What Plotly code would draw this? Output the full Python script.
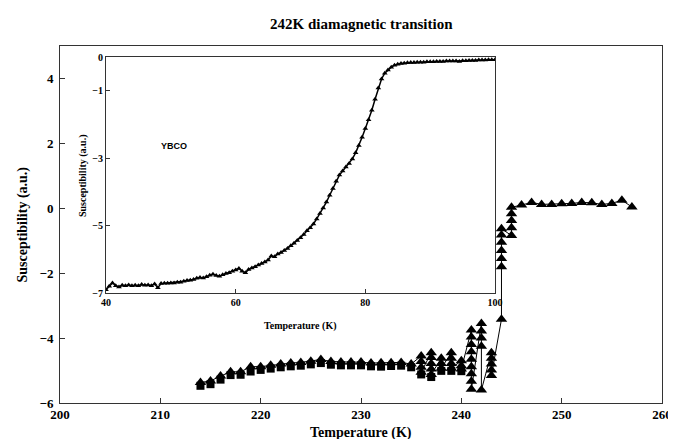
"""
242K diamagnetic transition with YBCO inset.
"""

import numpy as np
import plotly.graph_objects as go

# ── main panel data (triangles, stacks = repeated readings) ─────────────────
main_T = [
    214, 215, 216, 217, 218, 219, 220, 221, 222, 223, 224, 225, 226, 227,
    228, 229, 230, 231, 232, 233, 234, 235,
    236, 236, 236, 236,
    237, 237, 237, 237, 237,
    238, 238, 238,
    239, 239, 239, 239,
    240, 240, 240,
    241, 241, 241, 241, 241, 241, 241, 241, 241,
    242, 242, 242, 242, 242,
    243, 243, 243, 243, 243,
    244, 244, 244, 244, 244, 244, 244,
    245, 245, 245, 245, 245,
    246, 247, 248, 249, 250, 251, 252, 253, 254, 255, 256, 257,
]
main_chi = [
    -5.37, -5.32, -5.17, -5.04, -5.04, -4.88, -4.88, -4.84, -4.80, -4.77,
    -4.75, -4.71, -4.66, -4.72, -4.74, -4.74, -4.74, -4.77, -4.76, -4.76,
    -4.75, -4.80,
    -4.55, -4.72, -4.90, -5.05,
    -4.45, -4.60, -4.78, -4.95, -5.12,
    -4.62, -4.78, -4.93,
    -4.45, -4.62, -4.78, -4.93,
    -4.70, -4.85, -4.95,
    -3.75, -3.97, -4.20, -4.42, -4.65, -4.88, -5.10, -5.33, -5.58,
    -3.55, -3.78, -4.00, -4.25, -5.60,
    -4.45, -4.62, -4.80, -4.98, -5.15,
    -3.42, -1.80, -1.55, -1.30, -1.05, -0.82, -0.63,
    -0.84, -0.60, -0.38, -0.17, 0.03,
    0.10, 0.18, 0.12, 0.12, 0.14, 0.15, 0.18, 0.17, 0.12, 0.15, 0.25, 0.04,
]

# square markers sitting just under the triangles
sq_T = [
    214, 215, 216, 217, 218, 219, 220, 221, 222, 223, 224, 225, 226, 227,
    228, 229, 230, 231, 232, 233, 234, 235, 236, 237, 238, 239, 240,
]
sq_chi = [
    -5.47, -5.42, -5.28, -5.14, -5.13, -5.03, -4.98, -4.94, -4.90, -4.87,
    -4.85, -4.81, -4.77, -4.82, -4.84, -4.84, -4.84, -4.87, -4.88, -4.86,
    -4.85, -4.90, -5.12, -5.20, -5.01, -5.01, -5.02,
]

# ── inset (YBCO) data ────────────────────────────────────────────────────────
ybco_T = np.arange(40.0, 100.5, 0.5)
ybco_chi = [
    -6.90, -6.80, -6.70, -6.78, -6.82, -6.77, -6.78, -6.76, -6.78, -6.77,
    -6.78, -6.75, -6.77, -6.76, -6.78, -6.73, -6.84, -6.72, -6.71, -6.71,
    -6.70, -6.70, -6.68, -6.68, -6.65, -6.63, -6.62, -6.60, -6.56, -6.54,
    -6.55, -6.52, -6.47, -6.44, -6.48, -6.50, -6.46, -6.42, -6.40, -6.35,
    -6.32, -6.27, -6.35, -6.40, -6.30, -6.26, -6.22, -6.17, -6.12, -6.08,
    -6.02, -5.90, -5.92, -5.84, -5.80, -5.74, -5.68, -5.60, -5.52, -5.44,
    -5.36, -5.26, -5.15, -5.06, -4.95, -4.80, -4.64, -4.48, -4.30, -4.10,
    -3.90, -3.68, -3.50, -3.38, -3.26, -3.16, -3.02, -2.84, -2.62, -2.38,
    -2.12, -1.86, -1.58, -1.25, -0.92, -0.65, -0.48, -0.38, -0.30, -0.24,
    -0.21, -0.19, -0.18, -0.17, -0.16, -0.16, -0.15, -0.15, -0.15, -0.14,
    -0.14, -0.14, -0.13, -0.13, -0.13, -0.12, -0.12, -0.12, -0.12, -0.13,
    -0.11, -0.11, -0.10, -0.10, -0.10, -0.09, -0.09, -0.09, -0.08, -0.08,
    -0.08,
]

main_xticks = [200, 210, 220, 230, 240, 250, 260]
main_yticks = [-6, -4, -2, 0, 2, 4]
inset_xticks = [40, 60, 80, 100]
inset_yticks = [-7, -5, -3, -1, 0]

SERIF = "Liberation Serif"
AX = "#333333"

fig = go.Figure()

fig.add_trace(go.Scatter(
    x=sq_T, y=sq_chi, mode="markers",
    marker=dict(symbol="square", size=8, color="black"),
    showlegend=False,
))
fig.add_trace(go.Scatter(
    x=main_T, y=main_chi, mode="lines+markers",
    line=dict(color="black", width=1),
    marker=dict(symbol="triangle-up", size=10, color="black"),
    showlegend=False,
))
fig.add_trace(go.Scatter(
    x=ybco_T, y=ybco_chi, mode="lines+markers",
    xaxis="x2", yaxis="y2",
    line=dict(color="black", width=1.5),
    marker=dict(symbol="triangle-up", size=5, color="black"),
    showlegend=False,
))

main_ax = dict(
    showline=True, mirror=True, linecolor=AX, linewidth=1,
    ticks="inside", ticklen=5, tickcolor=AX,
    showgrid=False, zeroline=False,
    tickfont=dict(family=SERIF, size=13, color="black", weight="bold"),
)
inset_ax = dict(
    showline=True, mirror=True, linecolor=AX, linewidth=1,
    ticks="inside", ticklen=4, tickcolor=AX,
    showgrid=False, zeroline=False,
    tickfont=dict(family=SERIF, size=10, color="black", weight="bold"),
)

fig.update_layout(
    width=676, height=439,
    margin=dict(l=52, r=22, t=38, b=44),
    plot_bgcolor="white", paper_bgcolor="white",
    xaxis=dict(range=[200, 260], tickvals=main_xticks, ticklabelstandoff=-1,
               **main_ax),
    yaxis=dict(range=[-6, 5], tickvals=main_yticks, ticklabelstandoff=3,
               **main_ax),
    xaxis2=dict(domain=[0.0764, 0.7226], anchor="y2", range=[40, 100],
                tickvals=inset_xticks, **inset_ax),
    yaxis2=dict(domain=[0.308, 0.969], anchor="x2", range=[-7, 0],
                tickvals=inset_yticks, **inset_ax),
    shapes=[dict(type="rect", xref="x2 domain", yref="y2 domain",
                 x0=0, x1=1, y0=0, y1=1, fillcolor="white",
                 line=dict(width=0), layer="below")],
)

bold = dict(family=SERIF, color="black", weight="bold")
centred = dict(showarrow=False, xanchor="center", yanchor="middle")
fig.add_annotation(text="242K diamagnetic transition", xref="paper", yref="paper",
                   x=0.5, y=1.0, yshift=22, font=dict(size=15, **bold), **centred)
fig.add_annotation(text="Temperature (K)", xref="paper", yref="paper",
                   x=0.5, y=0, yshift=-30, font=dict(size=14, **bold), **centred)
fig.add_annotation(text="Susceptibility (a.u.)", xref="paper", yref="paper",
                   x=0, y=0.5, xshift=-38, textangle=-90,
                   font=dict(size=14, **bold), **centred)
fig.add_annotation(text="Temperature (K)", xref="x2 domain", yref="y2 domain",
                   x=0.5, y=0, yshift=-33, font=dict(size=10, **bold), **centred)
fig.add_annotation(text="Susceptibility (a.u.)", xref="x2 domain", yref="y2 domain",
                   x=0, y=0.5, xshift=-23, textangle=-90,
                   font=dict(size=10, **bold), **centred)
fig.add_annotation(text="YBCO", xref="x2", yref="y2", x=50.5, y=-2.65,
                   font=dict(family="Liberation Sans", size=9, color="black",
                             weight="bold"), **centred)

fig.write_html("out.html")
